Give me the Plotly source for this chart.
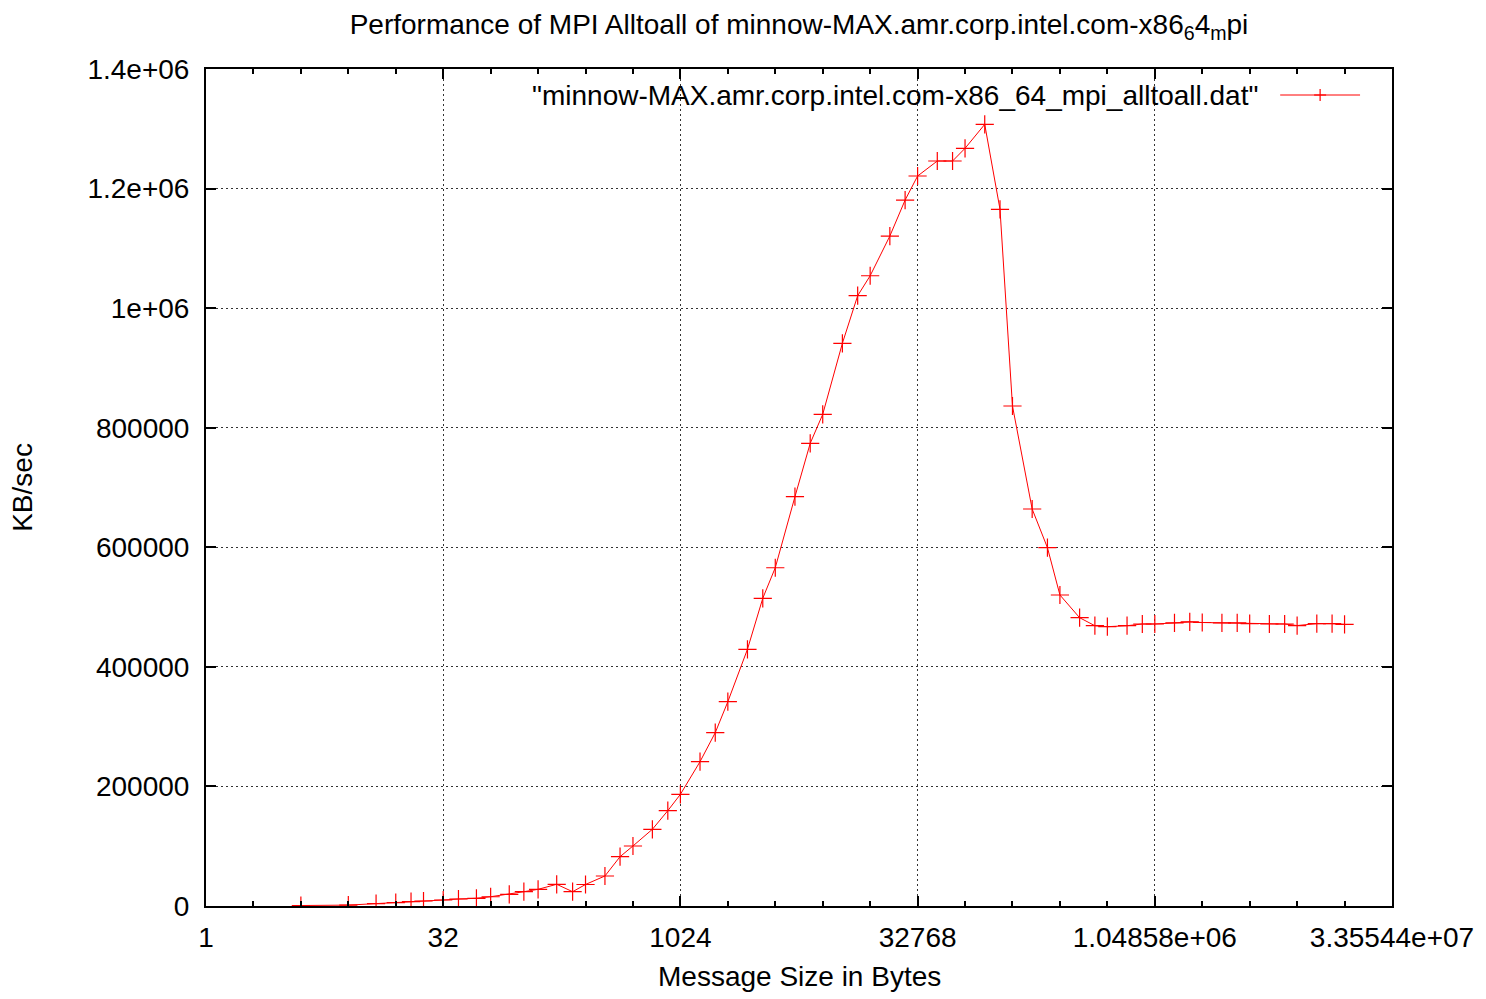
import math
import plotly.graph_objects as go

# ---- data ----
msg_sizes = [4, 8, 12, 16, 20, 24, 32, 40, 52, 64, 84, 104, 128, 168, 212, 256,
             340, 424, 512, 680, 852, 1024, 1364, 1704, 2048, 2728, 3412, 4096,
             5460, 6824, 8192, 10920, 13652, 16384, 21844, 27304, 32768, 43688,
             54612, 65536, 87380, 109224, 131072, 174760, 218452, 262144, 349524,
             436904, 524288, 699048, 873812, 1048576, 1398100, 1747624, 2097152,
             2796200, 3495252, 4194304, 5592404, 6990504, 8388608, 11184808,
             13981012, 16777216]
kb_per_sec = [800, 1500, 4000, 5500, 7200, 8400, 10000, 11700, 12900, 15500, 19600,
              23900, 27900, 36300, 23900, 36000, 50200, 82500, 100400, 128300,
              159400, 186800, 241400, 289900, 341700, 429400, 514700, 565800,
              684600, 773900, 822400, 941200, 1020800, 1054200, 1120600, 1180800,
              1221000, 1246100, 1246100, 1267300, 1307400, 1165300, 836300, 664000,
              599300, 520200, 482200, 468800, 467200, 468800, 471700, 471700,
              473500, 475300, 474200, 473500, 473500, 472300, 471700, 471700,
              469100, 472300, 472300, 471000]

x_tickvals = [1, 32, 1024, 32768, 1048576, 33554432]
x_ticktext = ["1", "32", "1024", "32768", "1.04858e+06", "3.35544e+07"]
x_minor_vals = [2 ** k for k in range(0, 26)]
y_tickvals = [0, 200000, 400000, 600000, 800000, 1000000, 1200000, 1400000]
y_ticktext = ["0", "200000", "400000", "600000", "800000", "1e+06", "1.2e+06", "1.4e+06"]

series_name = '"minnow-MAX.amr.corp.intel.com-x86_64_mpi_alltoall.dat"'
title_text = "Performance of MPI Alltoall of minnow-MAX.amr.corp.intel.com-x86<sub>6</sub>4<sub>m</sub>pi"

FONT = "Liberation Sans, Arial, sans-serif"
FS = 28
RED = "#ff0000"
GRID = "#333333"

fig = go.Figure()
fig.add_trace(go.Scatter(
    x=msg_sizes, y=kb_per_sec, mode="lines+markers", name=series_name,
    line=dict(color=RED, width=1),
    marker=dict(symbol="cross-thin", size=13, line=dict(color=RED, width=1.2), color=RED),
    showlegend=False,
))

# Page offset (body margin) is 8px; plot area on page: left 206, right 1394, top 69, bottom 906
OFF = 8
W, H = 1486 - OFF, 999 - OFF
L, R, T, B = 206, 1394, 69, 906
pw, ph = R - L, B - T

def px(xp):
    return (xp - L) / pw

def py(yp):
    return (B - yp) / ph

fig.update_layout(
    width=W, height=H,
    margin=dict(l=L - OFF, r=W - (R - OFF), t=T - OFF, b=H - (B - OFF), pad=0),
    paper_bgcolor="white", plot_bgcolor="white",
    font=dict(family=FONT, size=FS, color="black"),
    title=dict(text=title_text, x=0.5, xref="paper", xanchor="center",
               y=1 - (24 - OFF) / H, yref="container", yanchor="middle",
               font=dict(family=FONT, size=FS, color="black")),
    showlegend=False,
)

fig.update_xaxes(
    type="log", range=[0, math.log10(2 ** 25)],
    tickmode="array", tickvals=x_tickvals, ticktext=x_ticktext,
    ticks="inside", ticklen=10, tickwidth=1.5, tickcolor="black",
    showline=True, linewidth=2, linecolor="black", mirror="allticks",
    showgrid=True, gridcolor=GRID, gridwidth=1, griddash="2px,3px",
    zeroline=False, ticklabelstandoff=5,
    tickfont=dict(family=FONT, size=FS, color="black"),
    minor=dict(tickmode="array", tickvals=x_minor_vals, ticks="inside",
               ticklen=5, tickwidth=1.5, tickcolor="black", showgrid=False),
)
fig.update_yaxes(
    range=[0, 1400000],
    tickmode="array", tickvals=y_tickvals, ticktext=y_ticktext,
    ticks="inside", ticklen=10, tickwidth=1.5, tickcolor="black",
    showline=True, linewidth=2, linecolor="black", mirror="allticks",
    showgrid=True, gridcolor=GRID, gridwidth=1, griddash="2px,3px",
    zeroline=False, ticklabelstandoff=9,
    tickfont=dict(family=FONT, size=FS, color="black"),
)

# axis titles
fig.add_annotation(text="Message Size in Bytes", xref="paper", yref="paper",
                   x=0.5, y=py(976), xanchor="center", yanchor="middle",
                   showarrow=False, font=dict(family=FONT, size=FS, color="black"))
fig.add_annotation(text="KB/sec", xref="paper", yref="paper",
                   x=px(22), y=0.5, xanchor="center", yanchor="middle", textangle=-90,
                   showarrow=False, font=dict(family=FONT, size=FS, color="black"))

# legend (gnuplot style: text then sample on the right)
fig.add_annotation(text=series_name, xref="paper", yref="paper",
                   x=px(1262), y=py(95), xanchor="right", yanchor="middle",
                   showarrow=False, font=dict(family=FONT, size=FS, color="black"))
fig.add_shape(type="line", xref="paper", yref="paper",
              x0=px(1282), x1=px(1362), y0=py(95), y1=py(95),
              line=dict(color=RED, width=1))
fig.add_shape(type="line", xref="paper", yref="paper",
              x0=px(1316), x1=px(1328), y0=py(95), y1=py(95),
              line=dict(color=RED, width=1.2))
fig.add_shape(type="line", xref="paper", yref="paper",
              x0=px(1322), x1=px(1322), y0=py(89), y1=py(101),
              line=dict(color=RED, width=1.2))

fig.write_html("out.html")
